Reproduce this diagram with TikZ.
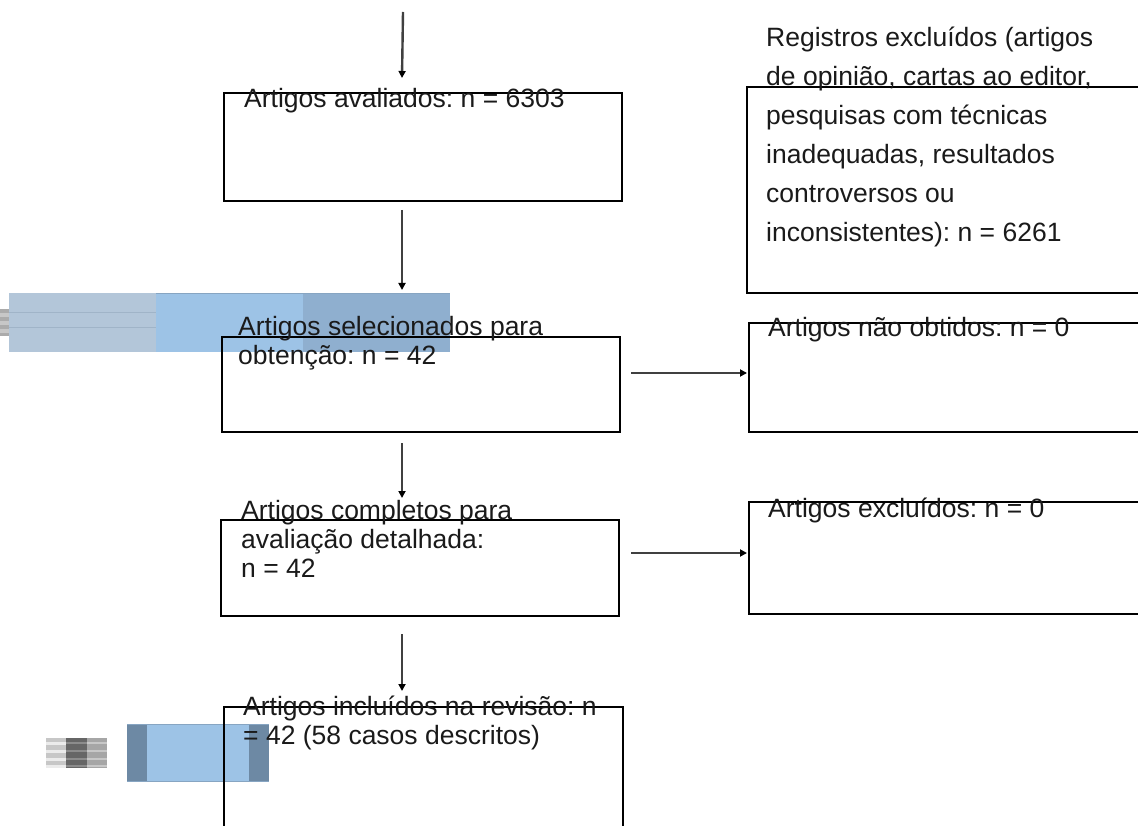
\documentclass[tikz,border=0pt]{standalone}
\usepackage{fontspec}
\setmainfont{Liberation Sans}
\frenchspacing
\usetikzlibrary{arrows.meta,calc}
\definecolor{txt}{HTML}{1A1A1A}
\definecolor{arrgray}{HTML}{404040}
\definecolor{bluegray}{HTML}{B3C6D9}
\definecolor{bluegrayline}{HTML}{A0B4C8}
\definecolor{lightblue}{HTML}{9DC3E6}
\definecolor{midblue}{HTML}{8FAFCF}
\definecolor{slate}{HTML}{6D89A4}
\definecolor{blueedge}{HTML}{87A5C2}
\tikzset{
  box/.style={draw=black, line width=2pt, rectangle, inner sep=0pt},
  lbl/.style={anchor=base west, inner sep=0pt, align=left, text=txt,
    font=\fontsize{26.5}{29}\selectfont},
  lblwide/.style={lbl, font=\fontsize{26.5}{39}\selectfont},
  arr/.style={draw=arrgray, line width=2.4pt,
    -{Stealth[length=7pt,width=7pt,inset=0pt,color=black]}},
}
\begin{document}
\begin{tikzpicture}[x=1pt,y=-1pt]
\useasboundingbox (0,0) rectangle (1138,826);
\clip (0,0) rectangle (1138,826);
\fill[white] (0,0) rectangle (1138,826);

% stray blue strip (top)
\fill[bluegray] (9,293) rectangle (156,352);
\draw[bluegrayline, line width=1pt] (9,313) -- (156,313);
\draw[bluegrayline, line width=1pt] (9,328) -- (156,328);
\fill[lightblue] (156,293) rectangle (303,352);
\fill[midblue] (303,293) rectangle (450,352);
\draw[blueedge, line width=1.2pt] (156,293.5) -- (450,293.5);
% gray stripes at left edge
\fill[black!33] (0,309) rectangle (9,336);
\foreach \yy in {313,321,329} {\fill[black!22] (0,\yy) rectangle (9,\yy+4);}

% stray block (bottom)
\fill[slate] (127,724) rectangle (269,782);
\fill[lightblue] (147,724) rectangle (249,782);
\draw[blueedge, line width=1pt] (127,724.5) -- (269,724.5);
\draw[blueedge, line width=1pt] (127,781.5) -- (269,781.5);
\fill[black!22] (46,738) rectangle (66,768);
\fill[black!60] (66,738) rectangle (87,768);
\fill[black!35] (87,738) rectangle (107,768);
\foreach \yy in {742,750,758,765} {
  \fill[black!8] (46,\yy) rectangle (66,\yy+3);
  \fill[black!45] (66,\yy) rectangle (87,\yy+2);
  \fill[black!22] (87,\yy) rectangle (107,\yy+2);
}

% boxes
\node[box, minimum width=398pt, minimum height=108pt] (A) at (423,147) {};
\node[box, minimum width=403pt, minimum height=206pt] (R) at (948.5,190) {};
\node[box, minimum width=398pt, minimum height=95pt] (S) at (421,384.5) {};
\node[box, minimum width=401pt, minimum height=109pt] (N) at (949.5,377.5) {};
\node[box, minimum width=398pt, minimum height=96pt] (C) at (420,568) {};
\node[box, minimum width=401pt, minimum height=112pt] (E) at (949.5,558) {};
\node[box, minimum width=399pt, minimum height=133pt] (I) at (423.5,773.5) {};

% texts (base anchor = baseline of the last line)
\node[lbl] (tA) at (244,108) {Artigos avaliados: n = 6303};
\node[lblwide] (tR) at (766,242) {Registros excluídos (artigos\\de opinião, cartas ao editor,\\pesquisas com técnicas\\inadequadas, resultados\\controversos ou\\inconsistentes): n = 6261};
\node[lbl] (tS) at (238,364) {Artigos selecionados para\\obtenção: n = 42};
\node[lbl] (tN) at (768,337) {Artigos não obtidos: n = 0};
\node[lbl] (tC) at (241,577) {Artigos completos para\\avaliação detalhada:\\n = 42};
\node[lbl] (tE) at (768,517) {Artigos excluídos: n = 0};
\node[lbl] (tI) at (243,744) {Artigos incluídos na revisão: n\\= 42 (58 casos descritos)};

% connectors
\coordinate (top) at (403,12);
\draw[arr] (top) -- ($(A.north west)+(179,-14)$);
\draw[arr] ($(A.south west)+(179,8)$) -- ($(S.north west)+(181,-46)$);
\draw[arr] ($(S.south west)+(181,10)$) -- ($(C.north west)+(182,-21)$);
\draw[arr] ($(C.south west)+(182,17)$) -- ($(I.north west)+(179,-15)$);
\draw[arr] ($(S.east)+(10,-11.5)$) -- ($(N.west)+(-1,-4.5)$);
\draw[arr] ($(C.east)+(11,-15)$) -- ($(E.west)+(-1,-5)$);
\end{tikzpicture}
\end{document}
